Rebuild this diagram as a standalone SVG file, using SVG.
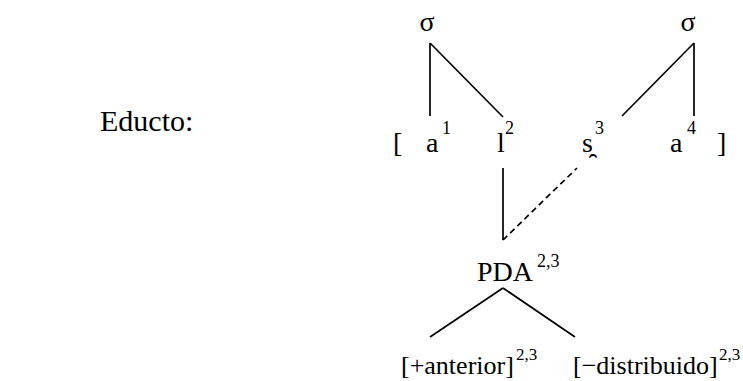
<svg xmlns="http://www.w3.org/2000/svg" width="743" height="381" viewBox="0 0 743 381">
<style>
text{font-family:"Liberation Serif","Times New Roman","DejaVu Serif",serif;font-size:28px;fill:#000}
.sup{font-size:18px}
.big{font-size:30px}
.feat{font-size:26px}
.fsup{font-size:17px}
line{stroke:#000;stroke-width:1.7}
.dash{stroke-dasharray:6,4}
</style>
<rect width="743" height="381" fill="#fff"/>
<g id="label"><text class="big" x="100" y="131">Educto:</text></g>
<g id="sigma1"><text x="427" y="31" text-anchor="middle">σ</text></g>
<g id="sigma2"><text x="688" y="31" text-anchor="middle">σ</text></g>
<g id="segments">
<text x="393" y="152">[</text>
<text x="426" y="152">a</text><text class="sup" x="442" y="134">1</text>
<text x="497" y="152">l</text><text class="sup" x="505" y="134">2</text>
<text x="582" y="152">s̯</text><text class="sup" x="595" y="134">3</text>
<text x="670" y="152">a</text><text class="sup" x="687" y="134">4</text>
<text x="717" y="152">]</text>
</g>
<g id="pda"><text x="477" y="281">PDA</text><text class="sup" x="537" y="267">2,3</text></g>
<g id="anterior"><text class="feat" x="401" y="374">[+anterior]</text><text class="fsup" x="516" y="360">2,3</text></g>
<g id="distribuido"><text class="feat" x="573" y="374">[−distribuido]</text><text class="fsup" x="719" y="360">2,3</text></g>
<g id="connectors">
<line x1="430" y1="43" x2="430" y2="116"/>
<line x1="430" y1="43" x2="503" y2="117"/>
<line x1="694" y1="43" x2="694" y2="116"/>
<line x1="694" y1="43" x2="622" y2="116"/>
<line x1="503" y1="168" x2="503" y2="240"/>
<line class="dash" x1="503" y1="240" x2="577" y2="168"/>
<line x1="503" y1="288" x2="430" y2="337"/>
<line x1="503" y1="288" x2="575" y2="337"/>
</g>
</svg>
